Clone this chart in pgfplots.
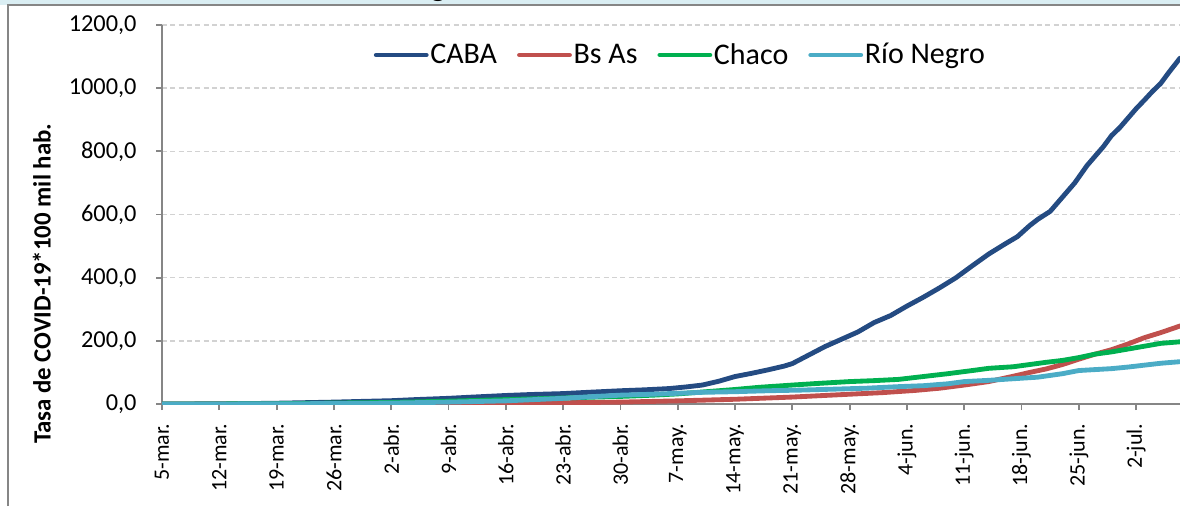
\documentclass[border=0pt]{standalone}
\usepackage{pgfplots}
\pgfplotsset{compat=1.18}
\usepackage{fontspec}
\setmainfont{Carlito}
\definecolor{caba}{RGB}{36,75,130}
\definecolor{bsas}{RGB}{192,80,77}
\definecolor{chaco}{RGB}{0,176,80}
\definecolor{rionegro}{RGB}{75,172,198}
\definecolor{axgray}{RGB}{134,134,134}
\definecolor{gridgray}{RGB}{210,210,210}
\definecolor{band}{RGB}{218,238,243}
\begin{document}
\begin{tikzpicture}
\useasboundingbox (0,0) rectangle (708pt,303.6pt);
\fill[band] (0,300.6pt) rectangle (708pt,303.6pt);
\node[font=\fontsize{18}{20}\selectfont\bfseries, anchor=base, inner sep=0pt] at (263pt,305.6pt) {g};
\draw[axgray, line width=0.9pt] (4.8pt,0) -- (4.8pt,300.6pt) -- (708pt,300.6pt);
\begin{axis}[
  at={(97.2pt,61.2pt)}, anchor=south west,
  scale only axis, width=610.8pt, height=227.4pt,
  xmin=0, xmax=124.36, ymin=0, ymax=1200,
  axis x line=bottom, axis y line=left,
  axis line style={-, draw=axgray, line width=1.1pt},
  tick align=outside, major tick length=3.6pt,
  tick style={axgray, line width=1.1pt},
  xtick={0,7,...,119},
  xticklabels={5-mar.,12-mar.,19-mar.,26-mar.,2-abr.,9-abr.,16-abr.,23-abr.,30-abr.,7-may.,14-may.,21-may.,28-may.,4-jun.,11-jun.,18-jun.,25-jun.,2-jul.},
  xticklabel style={rotate=90, anchor=east, font=\fontsize{13.2}{14}\selectfont, inner sep=0pt, xshift=-8pt},
  ytick={0,200,...,1200},
  yticklabel style={font=\fontsize{14.6}{16}\selectfont, inner sep=0pt, xshift=-11.5pt},
  /pgf/number format/use comma,
  /pgf/number format/fixed,
  /pgf/number format/fixed zerofill,
  /pgf/number format/precision=1,
  /pgf/number format/1000 sep={},
  /pgf/number format/assume math mode=true,
  ymajorgrids,
  grid style={gridgray, line width=0.9pt, dash pattern=on 3pt off 2pt},
  ylabel={Tasa de COVID-19*100 mil hab.},
  ylabel style={at={(rel axis cs:-0.118,0.317)}, anchor=center, font=\fontsize{14.9}{16}\selectfont\bfseries},
  legend columns=4,
  legend style={at={(0.509,0.921)}, anchor=center, draw=none, fill=none,
    font=\fontsize{18}{20}\selectfont,
    nodes={inner xsep=1pt, inner ysep=0pt},
    /tikz/every even column/.append style={column sep=11pt}},
  legend image code/.code={\draw[#1] (0pt,0pt) -- (30pt,0pt);},
  every axis plot/.append style={line width=2.9pt, line join=round, line cap=round, no marks},
]
\addplot[caba] coordinates {(0,0) (3,0.2) (7,0.6) (10,1.2) (14,2.5) (17,4) (21,6) (24,8) (28,10.5) (31,14) (35,18) (38,22) (42,27) (45,30) (49,33) (52,37) (56,42) (59,45) (62,49) (64,54) (66,60) (68,72) (70,87) (72,97) (74,108) (76,120) (77,128) (79,155) (81,182) (83,205) (85,228) (87,258) (89,280) (91,310) (93,338) (95,368) (97,400) (99,438) (101,475) (103,507) (104.5,530) (106,565) (107,585) (108.5,610) (110,655) (111.5,700) (113,755) (114,785) (115,815) (116,850) (117,875) (118,905) (119,935) (120,962) (121,990) (122,1015) (123,1050) (124.36,1095)};
\addlegendentry{CABA}
\addplot[bsas] coordinates {(0,0) (14,0.1) (21,0.3) (28,0.8) (35,1.5) (42,3) (49,4) (56,6) (63,10) (70,15) (77,22) (84,31) (88,36) (92,43) (95,50) (98,60) (101,71) (104,88) (106,100) (108,111) (110,125) (112,142) (114,158) (116,172) (118,190) (120,210) (122,226) (124.36,247)};
\addlegendentry{Bs As}
\addplot[chaco] coordinates {(0,0) (7,0.2) (14,1) (21,3) (28,5) (35,9) (42,14) (49,19) (53,22) (56,24) (60,28) (63,32) (66,38) (70,46) (73,53) (77,60) (80,65) (84,71) (87,74) (90,78) (93,87) (96,96) (99,106) (101,113) (104,118) (106,125) (108,132) (110,138) (112,147) (114,158) (116,165) (118,174) (120,183) (122,192) (124.36,197)};
\addlegendentry{Chaco}
\addplot[rionegro] coordinates {(0,0) (7,0.2) (14,0.5) (21,1.5) (28,3) (35,6) (42,10) (49,18) (53,24) (56,28) (60,31) (63,34) (66,37) (70,39) (74,42) (78,44) (82,47) (86,50) (90,55) (93,58) (96,64) (98,71) (101,75) (104,80) (107,85) (110,96) (112,106) (114,109) (116,112) (118,117) (120,123) (122,129) (124.36,134)};
\addlegendentry{Río Negro}
\end{axis}
\end{tikzpicture}
\end{document}
